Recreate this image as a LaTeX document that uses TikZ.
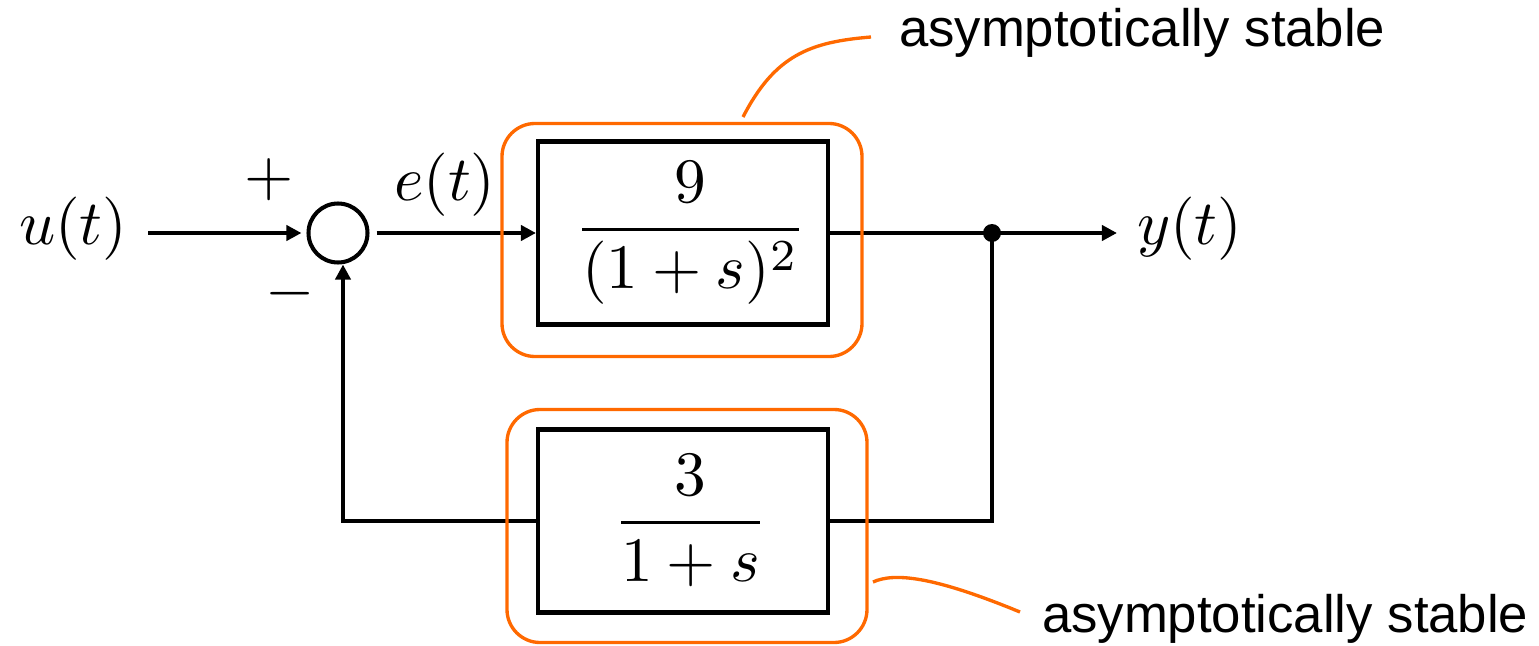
\documentclass[tikz,border=0pt]{standalone}
\usepackage{amsmath}
\usepackage{graphicx}
\usepackage{fontspec}
\newfontfamily\notefont{Liberation Sans}
\usetikzlibrary{arrows.meta,positioning,calc}
\definecolor{stableorange}{RGB}{255,105,0}
\newcommand{\bigmath}[1]{\scalebox{1.8}{$#1$}}

\begin{document}
\begin{tikzpicture}[x=0.1mm,y=-0.1mm,line width=1.15pt,
    >={Triangle[length=4.3pt,width=4.3pt]},
    sig/.style={inner sep=0pt},
    block/.style={draw,minimum width=29mm,minimum height=18.3mm,inner sep=0pt},
    sumnode/.style={draw,circle,minimum size=5.9mm,inner sep=0pt},
    halo/.style={draw=stableorange,line width=0.95pt,rounded corners=3.3mm,minimum width=36mm,minimum height=23.3mm},
    callout/.style={stableorange,line width=0.95pt},
    note/.style={font=\notefont\fontsize{15}{18}\selectfont,inner sep=0pt,anchor=base west}]
      \useasboundingbox (0,0) rectangle (1539,646);
      \node[sig,anchor=base west] (u) at (17,245) {\bigmath{u(t)}};
      \node[sumnode] (sum) at (338,233) {};
      \node[sig] (plus) at (269,180) {\bigmath{+}};
      \node[sig] (minus) at (290,294) {\bigmath{-}};
      \node[sig,anchor=base west] (e) at (392,200) {\bigmath{e(t)}};
      \node[block] (G) at (683,233) {\hspace*{1.5mm}\bigmath{\dfrac{9}{(1+s)^2}}};
      \node[block] (H) at (683,521) {\hspace*{1.5mm}\bigmath{\dfrac{3}{1+s}}};
      \node[sig,anchor=base west] (y) at (1135,244) {\bigmath{y(t)}};
      \coordinate (branch) at (992,233);
      \draw[->,shorten <=1.9mm,shorten >=0.5mm] (u.east |- sum) -- (sum.west);
      \draw[->,shorten <=0.7mm] (sum.east) -- (G.west);
      \draw[->,shorten >=1.8mm] (G.east) -- (G.east -| y.west);
      \fill (branch) circle[radius=0.9mm];
      \draw (branch) |- (H.east);
      \draw[->] (H.west) -| ([xshift=0.5mm]sum.south);
      \node[halo] (Gring) at (682,240) {};
      \node[halo] (Hring) at (687,526) {};
      \coordinate (topfoot) at (743,117);
      \coordinate (toptip) at (871,37);
      \draw[callout] (topfoot) .. controls (775,55) and (810,42) .. (toptip);
      \node[note] (topnote) at (897,47) {asymptotically stable};
      \coordinate (botfoot) at (873,582);
      \coordinate (bottip) at (1020,612);
      \draw[callout] (botfoot) .. controls (895,572) and (935,577) .. (bottip);
      \node[note] (botnote) at (1040,632) {asymptotically stable};
    \end{tikzpicture}
\end{document}
